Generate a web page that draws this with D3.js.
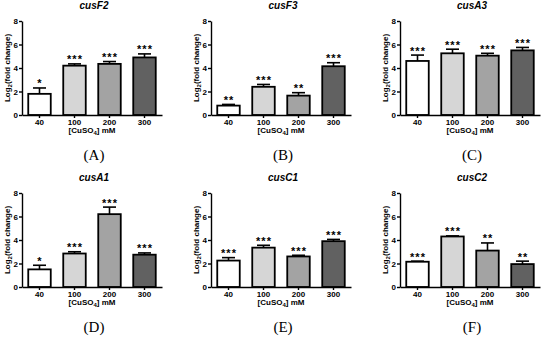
<!DOCTYPE html>
<html>
<head>
<meta charset="utf-8">
<script src="https://cdn.jsdelivr.net/npm/d3@7"></script>
<style>
  body { margin: 0; background: #fff; }
  svg { display: block; font-family: "Liberation Sans", Arial, sans-serif; }
  .axis path, .axis line { stroke: #000; stroke-width: 1.4; }
  .axis text { font-size: 8px; font-weight: bold; fill: #000; }
</style>
</head>
<body>
<svg id="chart"></svg>
<script>
// data
const doses = ["40", "100", "200", "300"];
const genes = ["cusF2", "cusF3", "cusA3", "cusA1", "cusC1", "cusC2"];
const panelLabels = ["(A)", "(B)", "(C)", "(D)", "(E)", "(F)"];
const means = [
  [1.8, 4.2, 4.35, 4.9],
  [0.8, 2.4, 1.65, 4.15],
  [4.6, 5.25, 5.05, 5.5],
  [1.5, 2.85, 6.2, 2.75],
  [2.25, 3.35, 2.6, 3.9],
  [2.15, 4.3, 3.1, 1.95]
];
const errors = [
  [0.5, 0.15, 0.2, 0.3],
  [0.1, 0.2, 0.25, 0.3],
  [0.5, 0.35, 0.2, 0.25],
  [0.35, 0.15, 0.6, 0.15],
  [0.25, 0.2, 0.1, 0.15],
  [0.05, 0.05, 0.65, 0.25]
];
const stars = [
  ["*", "***", "***", "***"],
  ["**", "***", "**", "***"],
  ["***", "***", "***", "***"],
  ["*", "***", "***", "***"],
  ["***", "***", "***", "***"],
  ["***", "***", "**", "**"]
];
const yTicks = [0, 2, 4, 6, 8];

const WIDTH = 550, HEIGHT = 342;
const barFill = ["#ffffff", "#d6d6d6", "#a3a3a3", "#616161"];

// panel geometry
const COL_STEP = 189;
const ROW_TOP = [21, 193];
const PLOT_H = 94;
const AXIS_X = 22;
const PLOT_W = 140;

const svg = d3.select("#chart")
  .attr("width", WIDTH)
  .attr("height", HEIGHT);

const y = d3.scaleLinear().domain([0, 8]);

const x = d3.scaleBand()
  .domain(doses)
  .range([0, PLOT_W])
  .paddingInner(0.3)
  .paddingOuter(0.15);

genes.forEach((gene, p) => {
  const col = p % 3, row = Math.floor(p / 3);
  const left = AXIS_X + col * COL_STEP;
  const top = ROW_TOP[row];
  y.range([PLOT_H, 0]);

  const g = svg.append("g")
    .attr("transform", `translate(${left},${top})`);

  // title
  g.append("text")
    .attr("x", PLOT_W / 2 + 2)
    .attr("y", -12)
    .attr("text-anchor", "middle")
    .style("font-size", "10px")
    .style("font-weight", "bold")
    .style("font-style", "italic")
    .text(gene);

  const data = doses.map((d, i) => ({
    dose: d, mean: means[p][i], err: errors[p][i], star: stars[p][i], i
  }));

  // error bars (upper only)
  const eb = g.selectAll(".err")
    .data(data)
    .enter()
    .append("g")
    .attr("class", "err");
  eb.append("line")
    .attr("x1", d => x(d.dose) + x.bandwidth() / 2)
    .attr("x2", d => x(d.dose) + x.bandwidth() / 2)
    .attr("y1", d => y(d.mean))
    .attr("y2", d => y(d.mean + d.err))
    .style("stroke", "#000")
    .style("stroke-width", 1.6);
  eb.append("line")
    .attr("x1", d => x(d.dose) + x.bandwidth() / 2 - 6.5)
    .attr("x2", d => x(d.dose) + x.bandwidth() / 2 + 6.5)
    .attr("y1", d => y(d.mean + d.err))
    .attr("y2", d => y(d.mean + d.err))
    .style("stroke", "#000")
    .style("stroke-width", 1.6);

  // bars
  g.selectAll(".bar")
    .data(data)
    .enter()
    .append("rect")
    .attr("class", "bar")
    .attr("x", d => x(d.dose) + 1)
    .attr("width", x.bandwidth() - 2)
    .attr("y", d => y(d.mean))
    .attr("height", d => y(0) - y(d.mean))
    .style("fill", d => barFill[d.i])
    .style("stroke", "#000")
    .style("stroke-width", 1.8);

  // significance stars
  g.selectAll(".star")
    .data(data)
    .enter()
    .append("text")
    .attr("class", "star")
    .attr("x", d => x(d.dose) + x.bandwidth() / 2 + 0.5)
    .attr("y", d => y(d.mean + d.err) - 0.5)
    .attr("text-anchor", "middle")
    .style("font-size", "11px")
    .style("font-weight", "bold")
    .style("letter-spacing", "1px")
    .text(d => d.star);

  // axes
  g.append("g")
    .attr("class", "axis")
    .call(d3.axisLeft(y).tickValues(yTicks).tickSize(3).tickSizeOuter(0).tickPadding(1));

  g.append("g")
    .attr("class", "axis")
    .attr("transform", `translate(0,${PLOT_H})`)
    .call(d3.axisBottom(x).tickSize(3).tickSizeOuter(0).tickPadding(1));

  // y title
  const yt = g.append("text")
    .attr("transform", `translate(-12,${PLOT_H / 2}) rotate(-90)`)
    .attr("text-anchor", "middle")
    .style("font-size", "8px")
    .style("font-weight", "bold");
  yt.append("tspan").text("Log");
  yt.append("tspan").attr("dy", 2).style("font-size", "6px").text("2");
  yt.append("tspan").attr("dy", -2).text("(fold change)");

  // x title
  const xt = g.append("text")
    .attr("x", PLOT_W / 2)
    .attr("y", PLOT_H + 18)
    .attr("text-anchor", "middle")
    .style("font-size", "8px")
    .style("font-weight", "bold");
  xt.append("tspan").text("[CuSO");
  xt.append("tspan").attr("dy", 2).style("font-size", "6px").text("4");
  xt.append("tspan").attr("dy", -2).text("] mM");

  // panel label
  g.append("text")
    .attr("x", PLOT_W / 2 + 2)
    .attr("y", PLOT_H + 45)
    .attr("text-anchor", "middle")
    .style("font-family", "'Liberation Serif', 'Times New Roman', serif")
    .style("font-size", "15px")
    .text(panelLabels[p]);
});
</script>
</body>
</html>
